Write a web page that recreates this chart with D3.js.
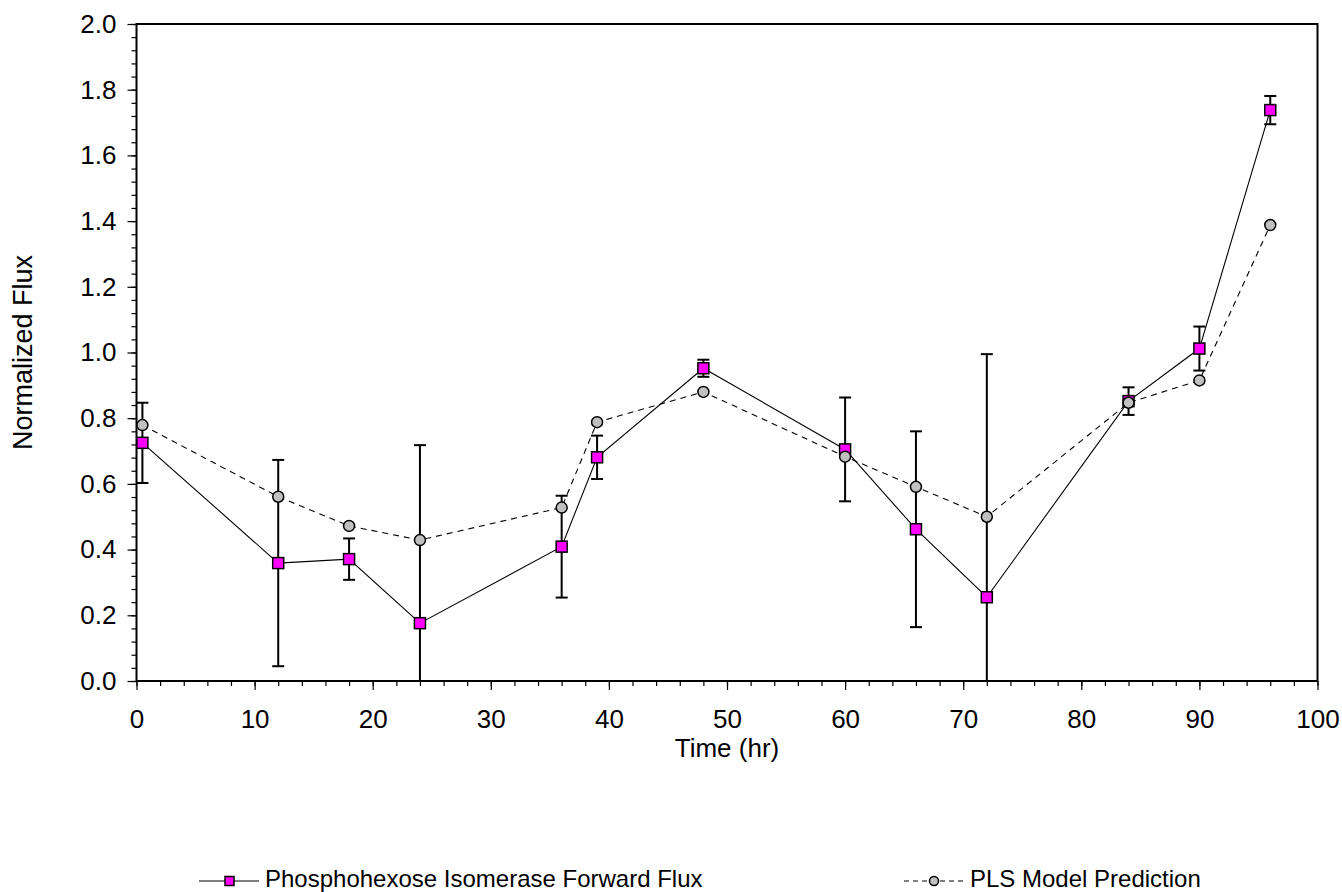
<!DOCTYPE html>
<html>
<head>
<meta charset="utf-8">
<script src="https://cdn.jsdelivr.net/npm/d3@7"></script>
<style>
  body { margin: 0; background: #fff; }
  svg { display: block; }
  text { font-family: "Liberation Sans", Arial, Helvetica, sans-serif; }
</style>
</head>
<body>
<div class="chart"></div>
<script>
// data
const times = [0.5, 12, 18, 24, 36, 39, 48, 60, 66, 72, 84, 90, 96];
const phiFlux = [0.725, 0.359, 0.371, 0.176, 0.409, 0.681, 0.952, 0.705, 0.462, 0.255, 0.852, 1.012, 1.738];
const phiErr = [0.122, 0.314, 0.063, 0.542, 0.155, 0.066, 0.026, 0.158, 0.298, 0.740, 0.042, 0.067, 0.043];
const plsPred = [0.779, 0.561, 0.472, 0.429, 0.528, 0.788, 0.880, 0.683, 0.591, 0.500, 0.847, 0.915, 1.388];
const xTicks = [0, 10, 20, 30, 40, 50, 60, 70, 80, 90, 100];
const yTicks = [0, 0.2, 0.4, 0.6, 0.8, 1.0, 1.2, 1.4, 1.6, 1.8, 2.0];
const seriesNames = ["Phosphohexose Isomerase Forward Flux", "PLS Model Prediction"];

const width = 1342;
const height = 892;
const margin = { top: 24, right: 24.5, bottom: 211, left: 136.5 };
const graphWidth = width - margin.left - margin.right;
const graphHeight = height - margin.top - margin.bottom;

const svg = d3.select(".chart")
    .append("svg")
    .attr("width", width)
    .attr("height", height);
const graph = svg.append("g")
    .attr("transform", `translate(${margin.left}, ${margin.top})`);

const x = d3.scaleLinear().domain([0, 100]).range([0, graphWidth]);
const y = d3.scaleLinear().domain([0, 2]).range([graphHeight, 0]);

svg.append("clipPath").attr("id", "plotClip")
  .append("rect")
    .attr("width", graphWidth)
    .attr("height", graphHeight);

// minor ticks
const gXMinor = graph.append("g").attr("transform", `translate(0, ${graphHeight})`);
gXMinor.call(d3.axisBottom(x).tickValues(d3.range(0, 101, 2)).tickSize(5).tickFormat(""));
const gYMinor = graph.append("g");
gYMinor.call(d3.axisLeft(y).tickValues(d3.range(0, 51).map(i => i * 0.04)).tickSize(5).tickFormat(""));

// major ticks
const gXAxis = graph.append("g").attr("transform", `translate(0, ${graphHeight})`);
gXAxis.call(d3.axisBottom(x).tickValues(xTicks).tickSize(9).tickPadding(20).tickFormat(d3.format("d")));
const gYAxis = graph.append("g");
gYAxis.call(d3.axisLeft(y).tickValues(yTicks).tickSize(9).tickPadding(11).tickFormat(d3.format(".1f")));

graph.selectAll(".domain").remove();
graph.selectAll(".tick line").attr("stroke", "#000").attr("stroke-width", 1.2);
graph.selectAll(".tick text")
    .attr("fill", "#000")
    .style("font-size", "26px")
    .style("font-family", "'Liberation Sans', Arial, sans-serif");

// frame
graph.append("rect")
    .attr("width", graphWidth)
    .attr("height", graphHeight)
    .attr("fill", "none")
    .attr("stroke", "#000")
    .attr("stroke-width", 2);

const data = times.map((t, i) => ({ t, v: phiFlux[i], e: phiErr[i], p: plsPred[i] }));
const plot = graph.append("g").attr("clip-path", "url(#plotClip)");

// error bars
const bars = plot.selectAll(".err").data(data).enter().append("g").attr("class", "err")
    .attr("stroke", "#000").attr("stroke-width", 2);
bars.append("line")
    .attr("x1", d => x(d.t)).attr("x2", d => x(d.t))
    .attr("y1", d => y(d.v + d.e)).attr("y2", d => y(d.v - d.e));
bars.append("line")
    .attr("x1", d => x(d.t) - 6).attr("x2", d => x(d.t) + 6)
    .attr("y1", d => y(d.v + d.e)).attr("y2", d => y(d.v + d.e));
bars.append("line")
    .attr("x1", d => x(d.t) - 6).attr("x2", d => x(d.t) + 6)
    .attr("y1", d => y(d.v - d.e)).attr("y2", d => y(d.v - d.e));

// measured flux
plot.append("path")
    .datum(data)
    .attr("fill", "none")
    .attr("stroke", "#000")
    .attr("stroke-width", 1.1)
    .attr("d", d3.line().x(d => x(d.t)).y(d => y(d.v)));
plot.selectAll(".sq").data(data).enter().append("rect")
    .attr("class", "sq")
    .attr("x", d => x(d.t) - 5.5)
    .attr("y", d => y(d.v) - 5.5)
    .attr("width", 11).attr("height", 11)
    .attr("fill", "#ff00ff")
    .attr("stroke", "#000")
    .attr("stroke-width", 1.5);

// model prediction
plot.append("path")
    .datum(data)
    .attr("fill", "none")
    .attr("stroke", "#000")
    .attr("stroke-width", 1.1)
    .attr("stroke-dasharray", "6,5")
    .attr("d", d3.line().x(d => x(d.t)).y(d => y(d.p)));
plot.selectAll(".dot").data(data).enter().append("circle")
    .attr("class", "dot")
    .attr("cx", d => x(d.t))
    .attr("cy", d => y(d.p))
    .attr("r", 5.5)
    .attr("fill", "#c0c0c0")
    .attr("stroke", "#000")
    .attr("stroke-width", 1.5);

// axis titles
svg.append("text")
    .attr("x", margin.left + graphWidth / 2)
    .attr("y", 757)
    .attr("text-anchor", "middle")
    .style("font-size", "26px")
    .text("Time (hr)");
svg.append("text")
    .attr("transform", `translate(32, ${margin.top + graphHeight / 2}) rotate(-90)`)
    .attr("text-anchor", "middle")
    .style("font-size", "27px")
    .text("Normalized Flux");

// legend
const legY = 881;
const leg1 = svg.append("g").attr("transform", `translate(199, ${legY})`);
leg1.append("line").attr("x1", 0).attr("x2", 60).attr("stroke", "#000").attr("stroke-width", 1.1);
leg1.append("rect").attr("x", 26).attr("y", -4.5).attr("width", 9).attr("height", 9)
    .attr("fill", "#ff00ff").attr("stroke", "#000").attr("stroke-width", 1.5);
leg1.append("text").attr("x", 66).attr("y", 6).style("font-size", "24px").text(seriesNames[0]);

const leg2 = svg.append("g").attr("transform", `translate(904, ${legY})`);
leg2.append("line").attr("x1", 0).attr("x2", 60).attr("stroke", "#000").attr("stroke-width", 1.1)
    .attr("stroke-dasharray", "5,4");
leg2.append("circle").attr("cx", 30).attr("r", 4.5)
    .attr("fill", "#c0c0c0").attr("stroke", "#000").attr("stroke-width", 1.5);
leg2.append("text").attr("x", 66).attr("y", 6).style("font-size", "24px").text(seriesNames[1]);
</script>
</body>
</html>
